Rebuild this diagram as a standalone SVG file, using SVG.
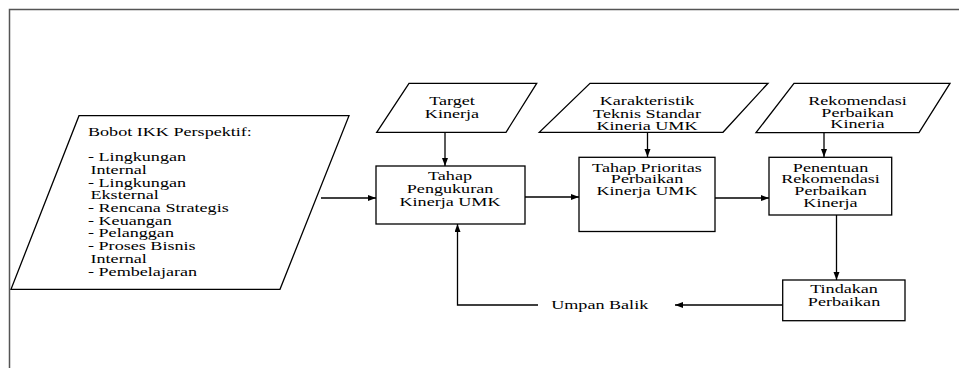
<svg xmlns="http://www.w3.org/2000/svg" width="959" height="368" viewBox="0 0 959 368">
<style>
  .shape { fill: #fff; stroke: #000; stroke-width: 1.3; }
  .conn { fill: none; stroke: #000; stroke-width: 1.3; }
  .frame { fill: none; stroke: #555; stroke-width: 1.5; }
  .t { font-family: 'Liberation Serif', 'DejaVu Serif', serif; font-size: 12.5px; fill: #000; }
  .c { text-anchor: middle; }
</style>
<defs>
  <marker id="arrow" markerUnits="userSpaceOnUse" markerWidth="9" markerHeight="7" refX="8" refY="3" orient="auto">
    <path d="M0,0 L8,3 L0,6 z" fill="#000"/>
  </marker>
</defs>
<rect width="959" height="368" fill="#fff"/>
<path class="frame" d="M9.5,368 V9.5 H959"/>

<g id="connectors">
  <path class="conn" d="M321,198 H376" marker-end="url(#arrow)"/>
  <path class="conn" d="M445,132.5 V166" marker-end="url(#arrow)"/>
  <path class="conn" d="M525,197 H579" marker-end="url(#arrow)"/>
  <path class="conn" d="M647.5,132.5 V157" marker-end="url(#arrow)"/>
  <path class="conn" d="M715,198 H769" marker-end="url(#arrow)"/>
  <path class="conn" d="M824,133 V157" marker-end="url(#arrow)"/>
  <path class="conn" d="M836.5,215 V280" marker-end="url(#arrow)"/>
  <path class="conn" d="M782.5,305 H675" marker-end="url(#arrow)"/>
  <path class="conn" d="M538,305 H457.5 V224" marker-end="url(#arrow)"/>
</g>

<g class="t" font-family="Liberation Serif, DejaVu Serif, serif" font-size="12.5">
<g id="bobot-ikk">
  <polygon class="shape" points="79,115.7 349,115.7 280,289.3 11,289.3"/>
  <text transform="matrix(1.45 0 0 1 88 0)" x="0" y="136.5">Bobot IKK Perspektif:</text>
  <text transform="matrix(1.45 0 0 1 88 0)" x="0" y="161.5">- Lingkungan</text>
  <text transform="matrix(1.45 0 0 1 90.5 0)" x="0" y="174">Internal</text>
  <text transform="matrix(1.45 0 0 1 88 0)" x="0" y="186.7">- Lingkungan</text>
  <text transform="matrix(1.45 0 0 1 90.5 0)" x="0" y="199.3">Eksternal</text>
  <text transform="matrix(1.45 0 0 1 88 0)" x="0" y="212">- Rencana Strategis</text>
  <text transform="matrix(1.45 0 0 1 88 0)" x="0" y="224.7">- Keuangan</text>
  <text transform="matrix(1.45 0 0 1 88 0)" x="0" y="237.5">- Pelanggan</text>
  <text transform="matrix(1.45 0 0 1 88 0)" x="0" y="250.3">- Proses Bisnis</text>
  <text transform="matrix(1.45 0 0 1 90.5 0)" x="0" y="263">Internal</text>
  <text transform="matrix(1.45 0 0 1 88 0)" x="0" y="276.3">- Pembelajaran</text>
</g>

<g id="target-kinerja">
  <polygon class="shape" points="409,83.3 536.7,83.3 506,132.3 376.7,132.3"/>
  <text class="c" transform="matrix(1.45 0 0 1 452 0)" x="0" y="105">Target</text>
  <text class="c" transform="matrix(1.45 0 0 1 452 0)" x="0" y="118">Kinerja</text>
</g>

<g id="karakteristik">
  <polygon class="shape" points="590,83.3 768,83.3 723,132.3 539.3,132.3"/>
  <text class="c" transform="matrix(1.45 0 0 1 647 0)" x="0" y="105.5">Karakteristik</text>
  <text class="c" transform="matrix(1.45 0 0 1 647 0)" x="0" y="117.8">Teknis Standar</text>
  <text class="c" transform="matrix(1.45 0 0 1 647 0)" x="0" y="130">Kineria UMK</text>
</g>

<g id="rekomendasi">
  <polygon class="shape" points="794,83.3 950,83.3 919,132.7 756,132.7"/>
  <text class="c" transform="matrix(1.45 0 0 1 857.5 0)" x="0" y="105">Rekomendasi</text>
  <text class="c" transform="matrix(1.45 0 0 1 857.5 0)" x="0" y="116.7">Perbaikan</text>
  <text class="c" transform="matrix(1.45 0 0 1 857.5 0)" x="0" y="128.3">Kineria</text>
</g>

<g id="tahap-pengukuran">
  <rect class="shape" x="376" y="166" width="149" height="58"/>
  <text class="c" transform="matrix(1.45 0 0 1 450 0)" x="0" y="180">Tahap</text>
  <text class="c" transform="matrix(1.45 0 0 1 450 0)" x="0" y="193.5">Pengukuran</text>
  <text class="c" transform="matrix(1.45 0 0 1 450 0)" x="0" y="206">Kinerja UMK</text>
</g>

<g id="tahap-prioritas">
  <rect class="shape" x="579" y="157.3" width="136" height="74.2"/>
  <text class="c" transform="matrix(1.45 0 0 1 647 0)" x="0" y="171.7">Tahap Prioritas</text>
  <text class="c" transform="matrix(1.45 0 0 1 647 0)" x="0" y="183.3">Perbaikan</text>
  <text class="c" transform="matrix(1.45 0 0 1 647 0)" x="0" y="195">Kinerja UMK</text>
</g>

<g id="penentuan">
  <rect class="shape" x="769" y="157.3" width="122.7" height="57.7"/>
  <text class="c" transform="matrix(1.45 0 0 1 830.5 0)" x="0" y="171.7">Penentuan</text>
  <text class="c" transform="matrix(1.45 0 0 1 830.5 0)" x="0" y="183.3">Rekomendasi</text>
  <text class="c" transform="matrix(1.45 0 0 1 830.5 0)" x="0" y="195">Perbaikan</text>
  <text class="c" transform="matrix(1.45 0 0 1 830.5 0)" x="0" y="206.7">Kinerja</text>
</g>

<g id="tindakan">
  <rect class="shape" x="782.7" y="280" width="122.3" height="40.7"/>
  <text class="c" transform="matrix(1.45 0 0 1 844 0)" x="0" y="293.3">Tindakan</text>
  <text class="c" transform="matrix(1.45 0 0 1 844 0)" x="0" y="306">Perbaikan</text>
</g>

<g id="umpan-balik">
  <text class="c" transform="matrix(1.45 0 0 1 599.7 0)" x="0" y="309.5">Umpan Balik</text>
</g>
</g>
</svg>
